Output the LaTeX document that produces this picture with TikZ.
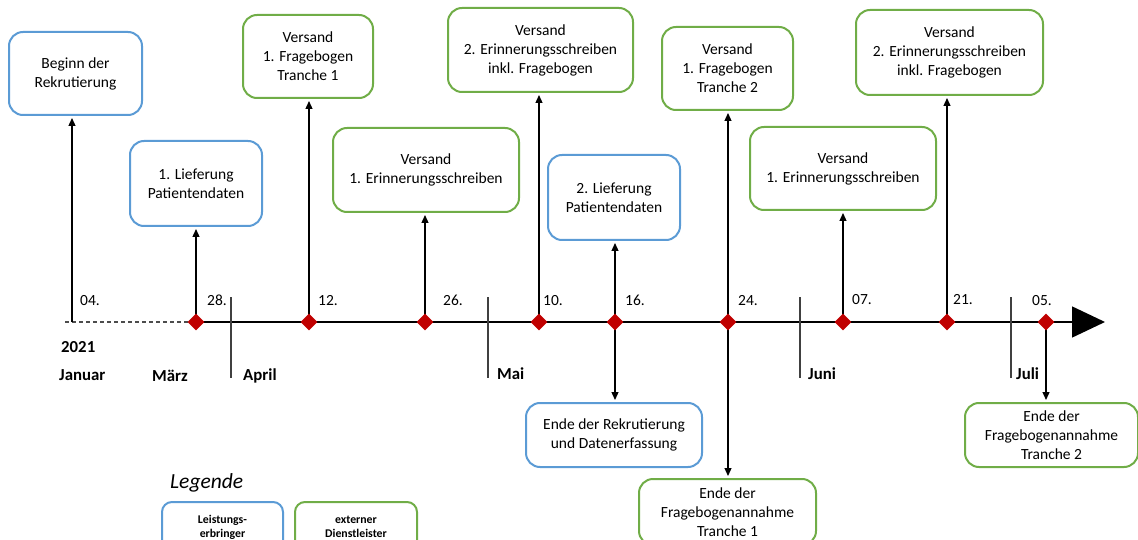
\documentclass[tikz,border=0pt]{standalone}
\usepackage{fontspec}
\setmainfont{Carlito}
\usetikzlibrary{arrows.meta,shapes.geometric}
\definecolor{provider}{HTML}{5B9BD5}
\definecolor{contractor}{HTML}{70AD47}
\definecolor{milestone}{HTML}{C00000}
\begin{document}
\begin{tikzpicture}[x=1pt,y=-1pt,
  box/.style={draw, line width=2pt, rounded corners=14pt, align=center,
    font=\fontsize{15.5}{19}\selectfont, inner sep=0pt},
  lsp/.style={box, draw=provider},
  ext/.style={box, draw=contractor},
  legbox/.style={draw, line width=2pt, rounded corners=10pt, align=center,
    font=\bfseries\fontsize{11.8}{14}\selectfont, inner sep=0pt,
    minimum height=50pt},
  ms/.style={diamond, fill=milestone, minimum width=17pt, minimum height=17pt, inner sep=0pt},
  conn/.style={line width=1.3pt, shorten >=2pt, -{Triangle[length=8pt,width=7pt]}},
  day/.style={anchor=base west, font=\fontsize{15.5}{19}\selectfont, inner sep=0pt},
  month/.style={anchor=base west, font=\bfseries\fontsize{16.8}{20}\selectfont, inner sep=0pt},
  monthsep/.style={line width=1.5pt, draw=black!75}]

\useasboundingbox (0,0) rectangle (1138,540);
\clip (0,0) rectangle (1138,540);

% event boxes: blue = Leistungserbringer, green = externer Dienstleister
\node[lsp, minimum width=133pt, minimum height=83pt] (b1) at (75.5,73.5) {Beginn der\\Rekrutierung};
\node[lsp, minimum width=132pt, minimum height=85pt] (b2) at (196,183.5) {1. Lieferung\\Patientendaten};
\node[ext, minimum width=130pt, minimum height=83pt] (g1) at (308,56.5) {Versand\\1. Fragebogen\\Tranche 1};
\node[ext, minimum width=186pt, minimum height=84pt] (g2) at (426,170) {Versand\\1. Erinnerungsschreiben};
\node[ext, minimum width=185pt, minimum height=84pt] (g3) at (540.5,50) {Versand\\2. Erinnerungsschreiben\\inkl. Fragebogen};
\node[lsp, minimum width=132pt, minimum height=85pt] (b3) at (614,197.5) {2. Lieferung\\Patientendaten};
\node[lsp, minimum width=176pt, minimum height=64pt] (b4) at (614,435) {Ende der Rekrutierung\\und Datenerfassung};
\node[ext, minimum width=131pt, minimum height=83pt] (g4) at (727.5,68.5) {Versand\\1. Fragebogen\\Tranche 2};
\node[ext, minimum width=177pt, minimum height=66pt] (g5) at (727.5,512) {Ende der\\Fragebogenannahme\\Tranche 1};
\node[ext, minimum width=186pt, minimum height=83pt] (g6) at (843,168.5) {Versand\\1. Erinnerungsschreiben};
\node[ext, minimum width=187pt, minimum height=85pt] (g7) at (949.5,52.5) {Versand\\2. Erinnerungsschreiben\\inkl. Fragebogen};
\node[ext, minimum width=173pt, minimum height=64pt] (g8) at (1051.5,435) {Ende der\\Fragebogenannahme\\Tranche 2};

% timeline
\coordinate (t0) at (65,322);
\coordinate (t4) at (72,322);
\coordinate (m1) at (196,322);
\coordinate (m2) at (309,322);
\coordinate (m3) at (425,322);
\coordinate (m4) at (539,322);
\coordinate (m5) at (615,322);
\coordinate (m6) at (728,322);
\coordinate (m7) at (843,322);
\coordinate (m8) at (947,322);
\coordinate (m9) at (1046,322);
\coordinate (tend) at (1105,322);

\draw[line width=1.3pt, black!70, dash pattern=on 4pt off 3pt] (t0) -- (m1);
\draw[line width=1.5pt, -{Triangle[length=33pt,width=31pt]}] (m1) -- (tend);

% month separators
\coordinate (s1) at (231,297);
\coordinate (s2) at (488,297);
\coordinate (s3) at (800,297);
\coordinate (s4) at (1011,297);
\foreach \s in {s1,s2,s3,s4}
  \draw[monthsep] (\s) -- ++(0,81);

% connectors from the timeline to the boxes
\draw[conn] (t4) -- (t4 |- b1.south);
\draw[conn] (m1) -- (m1 |- b2.south);
\draw[conn] (m2) -- (m2 |- g1.south);
\draw[conn] (m3) -- (m3 |- g2.south);
\draw[conn] (m4) -- (m4 |- g3.south);
\draw[conn] (m5) -- (m5 |- b3.south);
\draw[conn] (m5) -- (m5 |- b4.north);
\draw[conn] (m6) -- (m6 |- g4.south);
\draw[conn] (m6) -- (m6 |- g5.north);
\draw[conn] (m7) -- (m7 |- g6.south);
\draw[conn] (m8) -- (m8 |- g7.south);
\draw[conn] (m9) -- (m9 |- g8.north);

% milestones
\foreach \m in {1,...,9}
  \node[ms] (d\m) at (m\m) {};

% day labels
\node[day] (l04) at (80,305) {04.};
\node[day] (l28) at (207,305) {28.};
\node[day] (l12) at (318,305) {12.};
\node[day] (l26) at (443,305) {26.};
\node[day] (l10) at (543,305) {10.};
\node[day] (l16) at (625,305) {16.};
\node[day] (l24) at (738,305) {24.};
\node[day] (l07) at (852,304) {07.};
\node[day] (l21) at (953,304) {21.};
\node[day] (l05) at (1032,305) {05.};

% year and month labels
\node[month] (yr) at (61,352) {2021};
\node[month] (jan) at (59,380) {Januar};
\node[month] (mar) at (152,381) {März};
\node[month] (apr) at (243,380) {April};
\node[month] (mai) at (497,379) {Mai};
\node[month] (jun) at (808,379) {Juni};
\node[month] (jul) at (1016,379) {Juli};

% legend
\node[anchor=base west, inner sep=0pt, font=\itshape\fontsize{21.5}{24}\selectfont] (leg) at (170,488) {Legende};
\node[legbox, draw=provider, minimum width=121pt] (k1) at (222.5,527) {Leistungs-\\erbringer};
\node[legbox, draw=contractor, minimum width=122pt] (k2) at (356,527) {externer\\Dienstleister};
\end{tikzpicture}
\end{document}
